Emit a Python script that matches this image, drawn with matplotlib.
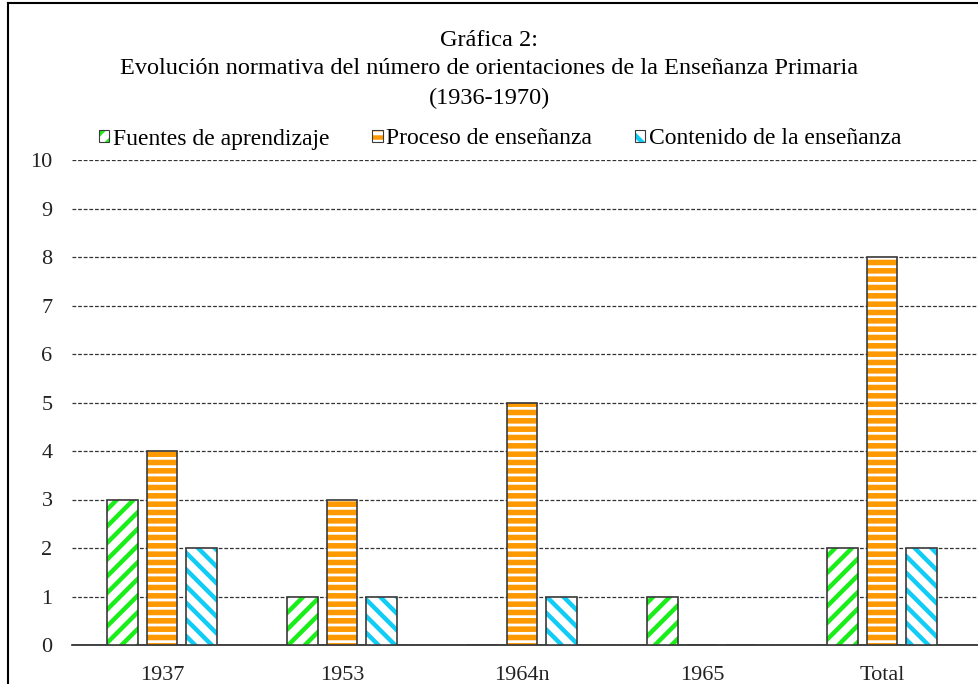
import numpy as np
import matplotlib.pyplot as plt
from matplotlib.patches import Patch
from matplotlib.lines import Line2D

plt.rcParams['font.family'] = 'Liberation Serif'

# data
categorias = ['1937', '1953', '1964n', '1965', 'Total']
fuentes = [3, 1, 0, 1, 2]
proceso = [4, 3, 5, 0, 8]
contenido = [2, 1, 1, 0, 2]
series_nombres = ['Fuentes de aprendizaje', 'Proceso de enseñanza', 'Contenido de la enseñanza']

colores = ['#19ee19', '#ff9900', '#11ccf5']
tramas = ['//', '--', '\\\\']
grosor_trama = [3.2, 4.0, 3.2]
borde = '#3a3a3a'

fig = plt.figure(figsize=(9.79, 6.84), dpi=100)
ax = fig.add_axes([72/979, 39/684, 907/979, 485/684])

x = np.arange(len(categorias))
ancho = 0.172
sep = 0.222
handles = []
for i, vals in enumerate([fuentes, proceso, contenido]):
    plt.rcParams['hatch.linewidth'] = grosor_trama[i]
    pos = x + (i - 1) * sep
    ax.bar(pos, vals, ancho, color='white', edgecolor=colores[i], hatch=tramas[i],
           linewidth=0, zorder=3)
    ax.bar(pos, vals, ancho, fill=False, edgecolor=borde, linewidth=1.2, zorder=4)
    handles.append((Patch(facecolor='white', edgecolor=colores[i], hatch=tramas[i], linewidth=0),
                    Patch(fill=False, edgecolor=borde, linewidth=0.8)))

ax.set_xlim(-0.5, 4.539)
ax.set_ylim(0, 10)
ax.set_yticks(range(0, 11))
ax.set_xticks(x)
ax.set_xticklabels(categorias)
ax.tick_params(axis='both', length=0, labelsize=16, colors='#222222')
ax.tick_params(axis='y', pad=14)
ax.tick_params(axis='x', pad=15)
ax.yaxis.grid(True, linestyle=(0, (3, 1.5)), color='#333333', linewidth=0.9, zorder=0)
for s in ['top', 'right', 'left']:
    ax.spines[s].set_visible(False)
ax.spines['bottom'].set_color('#222222')
ax.spines['bottom'].set_linewidth(1.2)

fig.legend(handles, series_nombres, loc='center', bbox_to_anchor=(500/979, 1 - 139/684),
           ncol=3, frameon=False, fontsize=17, handlelength=0.45, handleheight=0.45,
           handletextpad=0.15, columnspacing=1.8)

fig.text(0.5, 1 - 41/684, 'Gráfica 2:', ha='center', va='center', fontsize=17.5)
fig.text(0.5, 1 - 69/684, 'Evolución normativa del número de orientaciones de la Enseñanza Primaria',
         ha='center', va='center', fontsize=17.5)
fig.text(0.5, 1 - 98/684, '(1936-1970)', ha='center', va='center', fontsize=17.5)

# marco exterior
fig.add_artist(Line2D([8/979, 8/979], [0, 1 - 3/684], color='black', linewidth=1.5))
fig.add_artist(Line2D([8/979, 1], [1 - 3/684, 1 - 3/684], color='black', linewidth=1.5))

fig.savefig('out.png', dpi=100)
